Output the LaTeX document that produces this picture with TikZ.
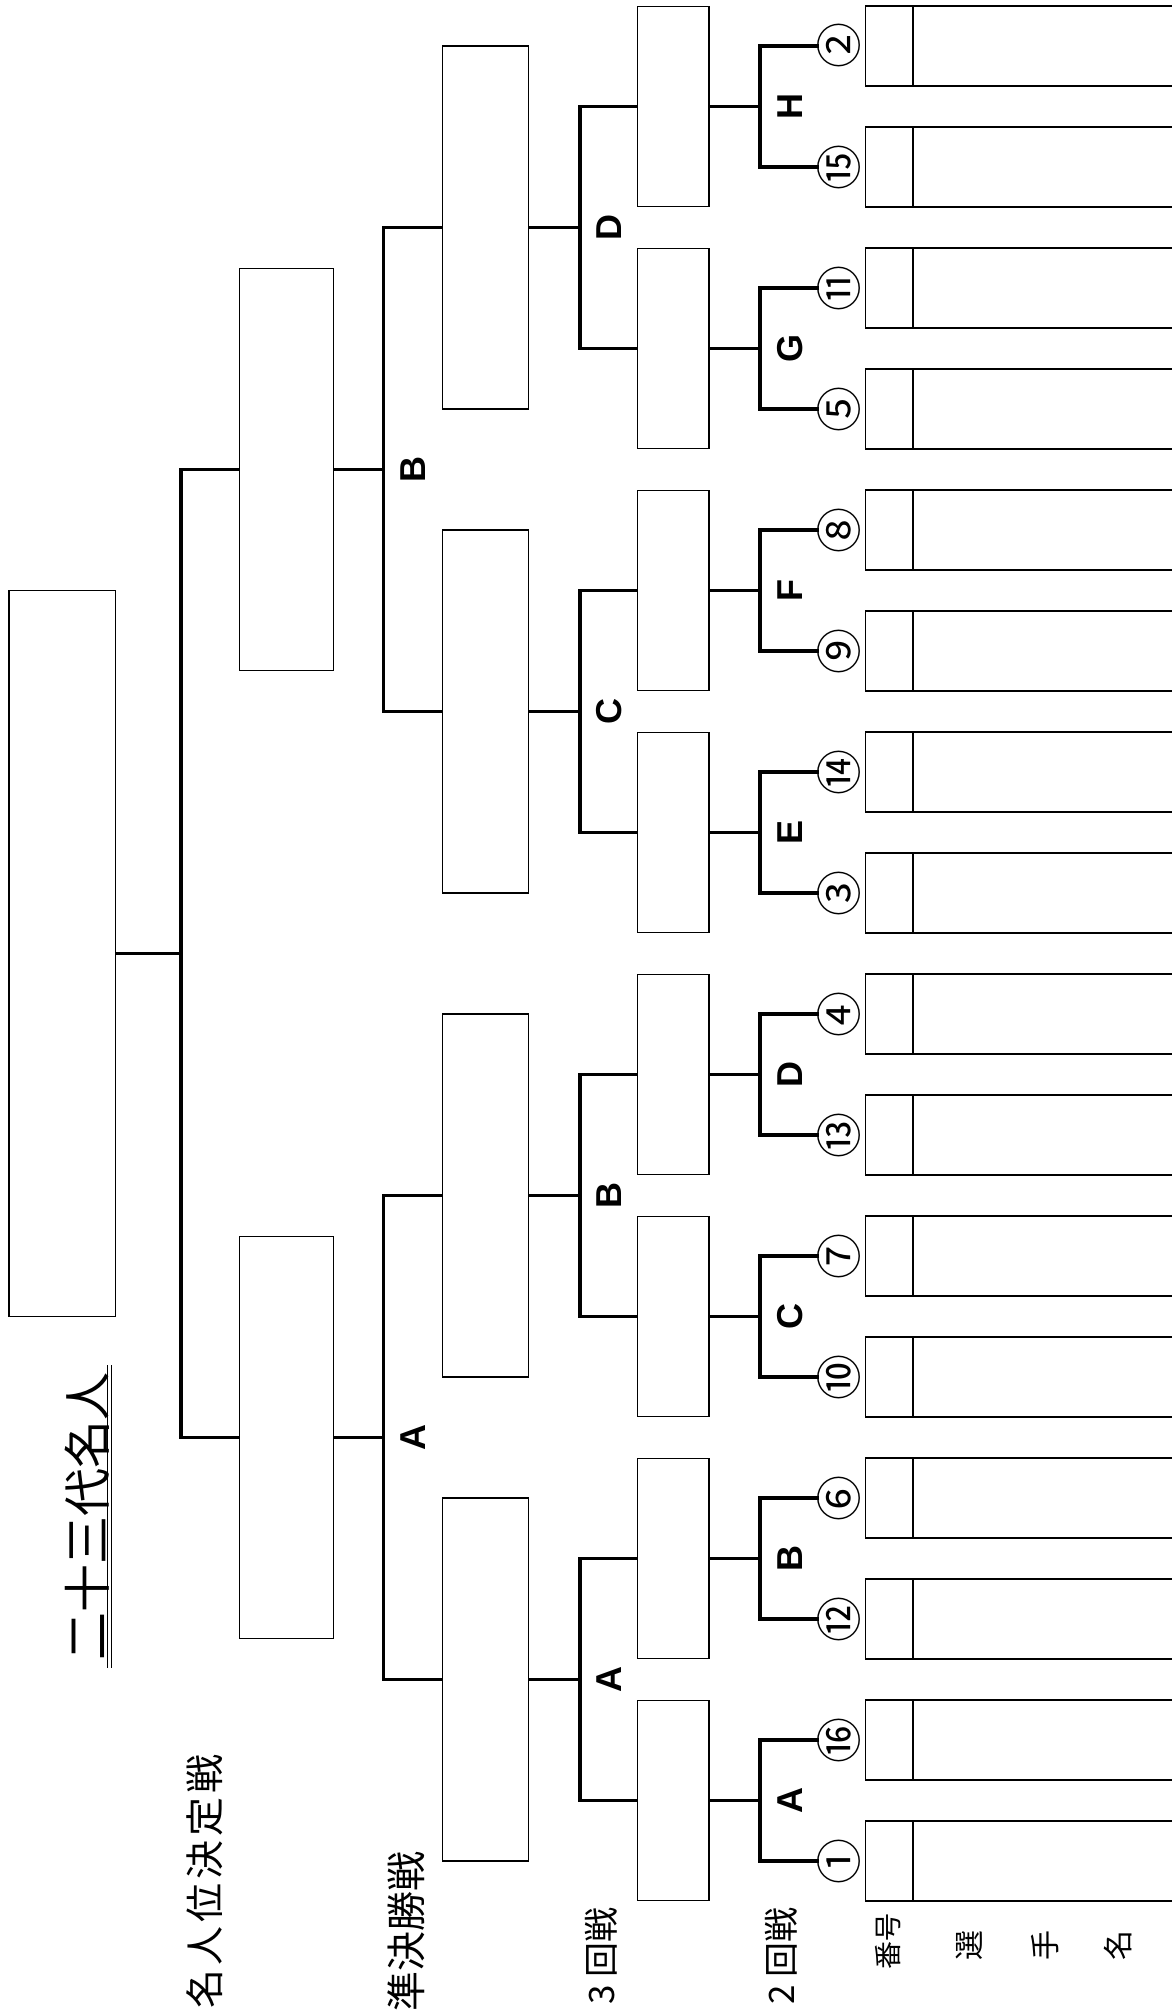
\documentclass[tikz,border=0pt]{standalone}
\usepackage{fontspec}
\newfontfamily\jp{Noto Sans CJK JP}
\newfontfamily\lat{Liberation Sans}
\begin{document}
\begin{tikzpicture}[x=1pt,y=-1pt,
  box/.style={draw, line width=1.3pt, rectangle, inner sep=0pt},
  thinline/.style={line width=1.3pt},
  brk/.style={line width=3.2pt, line join=miter},
  lbl/.style={rotate=90, inner sep=0pt, font=\lat\bfseries\fontsize{36}{38}\selectfont},
  num/.style={rotate=90, inner sep=0pt, font=\jp\fontsize{46}{48}\selectfont},
  jtext/.style={rotate=90, inner sep=0pt, anchor=west}]
\useasboundingbox (0,0) rectangle (1172,2010);
\fill[white] (0,0) rectangle (1172,2010);

% players
\foreach \n [count=\i from 0] in {②,⑮,⑪,⑤,⑧,⑨,⑭,③,④,⑬,⑦,⑩,⑥,⑫,⑯,①} {
  \pgfmathsetmacro\Y{46+121*\i}
  \node[box, minimum width=330pt, minimum height=80pt, anchor=west] (pb\i) at (865,\Y) {};
  \draw[thinline] (913,{\Y-40}) -- (913,{\Y+40});
  \node[num] (c\i) at (839,\Y) {\n};
  \coordinate (e\i) at (819,\Y);
}

% round-3 boxes (second-round winners)
\foreach \L [count=\k from 0] in {H,G,F,E,D,C,B,A} {
  \pgfmathsetmacro\yc{106.5+242*\k}
  \pgfmathtruncatemacro\a{2*\k}
  \pgfmathtruncatemacro\b{2*\k+1}
  \node[box, minimum width=71.8pt, minimum height=200pt] (r\k) at (673.2,\yc) {};
  \coordinate (j\k) at (760,\yc);
  \draw[brk] (r\k.east) -- (j\k);
  \draw[brk] (e\a) -| (j\k) |- (e\b);
  \node[lbl] (l2\k) at (790,\yc) {\L};
}

% semifinal boxes
\foreach \L [count=\k from 0] in {D,C,B,A} {
  \pgfmathsetmacro\yc{227.5+484*\k}
  \pgfmathtruncatemacro\a{2*\k}
  \pgfmathtruncatemacro\b{2*\k+1}
  \node[box, minimum width=85.9pt, minimum height=363pt] (q\k) at (485.35,\yc) {};
  \coordinate (qj\k) at (580,\yc);
  \draw[brk] (q\k.east) -- (qj\k);
  \draw[brk] (r\a.west) -| (qj\k) |- (r\b.west);
  \node[lbl] (l3\k) at (609,\yc) {\L};
}

% final-four winners
\foreach \L [count=\k from 0] in {B,A} {
  \pgfmathsetmacro\yc{469.5+968*\k}
  \pgfmathtruncatemacro\a{2*\k}
  \pgfmathtruncatemacro\b{2*\k+1}
  \node[box, minimum width=93.6pt, minimum height=402.6pt] (s\k) at (286.6,\yc) {};
  \coordinate (sj\k) at (383.4,\yc);
  \draw[brk] (s\k.east) -- (sj\k);
  \draw[brk] (q\a.west) -| (sj\k) |- (q\b.west);
  \node[lbl] (l4\k) at (413,\yc) {\L};
}

% champion
\node[box, minimum width=106.4pt, minimum height=726pt] (fin) at (62.2,953.5) {};
\coordinate (fj) at (181,953.5);
\draw[brk] (fin.east) -- (fj);
\draw[brk] (s0.west) -| (fj) |- (s1.west);

% title
\node[rotate=90, inner sep=0pt, font=\jp\fontsize{48}{50}\selectfont] (title) at (87,1516) {二十三代名人};
\coordinate (u1a) at (107.5,1365); \coordinate (u1b) at (107.5,1668);
\coordinate (u2a) at (111.5,1365); \coordinate (u2b) at (111.5,1668);
\draw[thinline] (u1a) -- (u1b);
\draw[thinline] (u2a) -- (u2b);

% row labels
\node[jtext, font=\jp\fontsize{39}{42}\selectfont] (t1) at (205,2009) {名\hspace{4pt}人\hspace{4pt}位\hspace{4pt}決\hspace{4pt}定\hspace{4pt}戦};
\node[jtext, font=\jp\fontsize{40}{42}\selectfont] (t2) at (406,2012) {準決勝戦};
\node[jtext, font=\jp\fontsize{35}{36}\selectfont] (t3) at (601,2005) {3 回戦};
\node[jtext, font=\jp\fontsize{35}{36}\selectfont] (t4) at (781,2005) {2 回戦};
\node[jtext, font=\jp\fontsize{28}{30}\selectfont] (t5) at (888,1970) {番号};
\node[rotate=90, inner sep=0pt, font=\jp\fontsize{30}{32}\selectfont] (t6) at (969,1945) {選};
\node[rotate=90, inner sep=0pt, font=\jp\fontsize{30}{32}\selectfont] (t7) at (1045,1945) {手};
\node[rotate=90, inner sep=0pt, font=\jp\fontsize{30}{32}\selectfont] (t8) at (1118,1945) {名};
\end{tikzpicture}
\end{document}
